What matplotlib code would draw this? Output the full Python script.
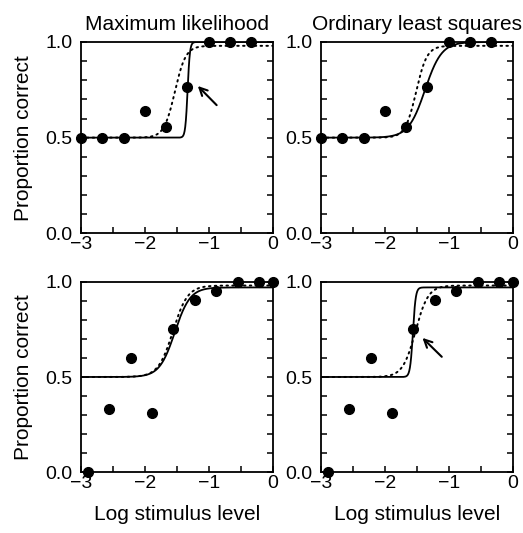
import numpy as np
import matplotlib
matplotlib.use("Agg")
import matplotlib.pyplot as plt
from matplotlib.ticker import MultipleLocator

plt.rcParams['font.family'] = ['Liberation Sans', 'DejaVu Sans']

# Observed proportions correct, upper row (first data set)
x_top = [-3.0, -2.667, -2.333, -2.0, -1.667, -1.333, -1.0, -0.667, -0.333]
p_top = [0.5, 0.5, 0.5, 0.638, 0.555, 0.765, 1.0, 1.0, 1.0]

# Observed proportions correct, lower row (second data set)
x_bot = [-2.885, -2.557, -2.219, -1.88, -1.557, -1.208, -0.88, -0.547, -0.21, 0.0]
p_bot = [0.0, 0.33, 0.598, 0.309, 0.75, 0.902, 0.951, 1.0, 1.0, 1.0]

titles = ["Maximum likelihood", "Ordinary least squares"]

# Psychometric function parameters: (threshold, spread, lapse), guess rate 0.5
fit_solid = [
    [(-1.33, 0.018, 0.0), (-1.37, 0.13, 0.0)],
    [(-1.53, 0.12, 0.03), (-1.56, 0.022, 0.03)],
]
fit_dotted = [
    [(-1.53, 0.085, 0.02), (-1.51, 0.085, 0.02)],
    [(-1.56, 0.115, 0.02), (-1.52, 0.10, 0.02)],
]

# Arrow annotations: (panel row, col, tail, head)
arrows = [
    (0, 0, (-0.875, 0.67), (-1.17, 0.77)),
    (1, 1, (-1.108, 0.606), (-1.41, 0.705)),
]


def psy(x, alpha, beta, lam, gamma=0.5):
    return gamma + (1 - gamma - lam) / (1 + np.exp(-(x - alpha) / beta))


fig = plt.figure(figsize=(5.23, 5.33), dpi=100)
W, H = 523.0, 533.0
lefts = [81, 321]
tops = [42, 281.7]
bottoms = [233.3, 472.3]
width = 191.5

xs = np.linspace(-3, 0, 600)
for r in range(2):
    for c in range(2):
        ax = fig.add_axes([lefts[c] / W, 1 - bottoms[r] / H, width / W,
                           (bottoms[r] - tops[r]) / H])
        a, b, l = fit_dotted[r][c]
        ax.plot(xs, psy(xs, a, b, l), color='black', lw=1.4,
                linestyle=(0, (0.8, 2.2)), dash_capstyle='round')
        a, b, l = fit_solid[r][c]
        ax.plot(xs, psy(xs, a, b, l), color='black', lw=1.3)
        xd, pd = (x_top, p_top) if r == 0 else (x_bot, p_bot)
        ax.plot(xd, pd, 'o', color='black', ms=7, clip_on=False, zorder=5)
        ax.set_xlim(-3, 0)
        ax.set_ylim(0, 1)
        ax.set_xticks([-3, -2, -1, 0])
        ax.set_xticklabels(['\u22123', '\u22122', '\u22121', '0'])
        ax.set_yticks([0, 0.5, 1.0])
        ax.set_yticklabels(['0.0', '0.5', '1.0'])
        ax.xaxis.set_minor_locator(MultipleLocator(0.5))
        ax.yaxis.set_minor_locator(MultipleLocator(0.1))
        ax.tick_params(which='both', direction='in', length=4, width=1.1,
                       labelsize=14, top=False, right=True)
        ax.tick_params(axis='x', which='major', pad=2)
        ax.tick_params(axis='y', which='major', pad=6, labelright=False)
        for s in ax.spines.values():
            s.set_linewidth(1.3)
        if r == 0:
            ax.set_title(titles[c], fontsize=15, pad=9)
        if c == 0:
            ax.set_ylabel("Proportion correct", fontsize=15, labelpad=9)
        if r == 1:
            ax.set_xlabel("Log stimulus level", fontsize=15, labelpad=9)
        for (ar, ac, tail, head) in arrows:
            if ar == r and ac == c:
                ax.annotate("", xy=head, xytext=tail,
                            arrowprops=dict(arrowstyle='->', lw=1.5,
                                            color='black',
                                            mutation_scale=14,
                                            shrinkA=0, shrinkB=0))

fig.savefig("out.png", dpi=100)
